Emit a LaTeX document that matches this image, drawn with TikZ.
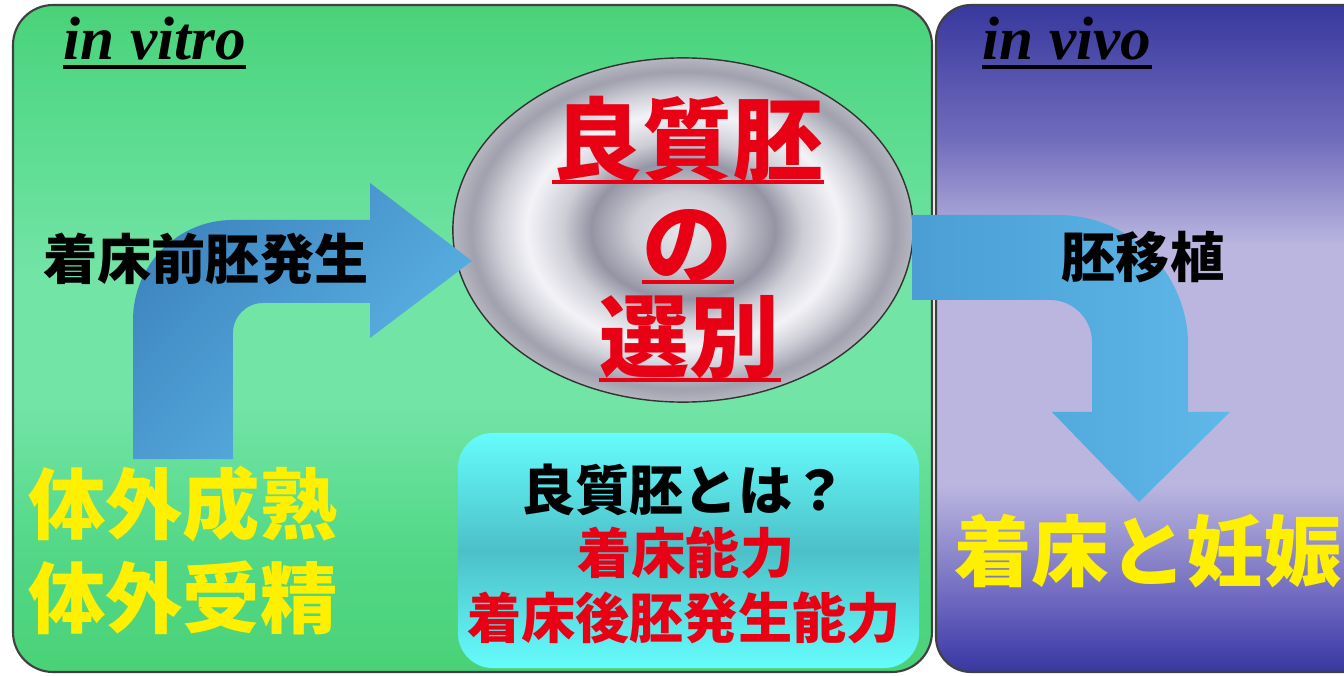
\documentclass[tikz,border=0pt]{standalone}
\usepackage{fontspec}
\usetikzlibrary{shapes.geometric}
\newfontfamily\jpfont{Noto Sans CJK JP}
\newfontfamily\titlefont{Liberation Serif}
\definecolor{vitrotop}{RGB}{74,210,120}
\definecolor{vitromid}{RGB}{114,228,166}
\definecolor{vitrolow}{RGB}{82,216,134}
\definecolor{vivotop}{RGB}{56,56,158}
\definecolor{vivodeep}{RGB}{75,72,175}
\definecolor{vivoupper}{RGB}{112,108,188}
\definecolor{vivomid}{RGB}{186,182,224}
\definecolor{vivolow}{RGB}{105,100,190}
\definecolor{vivosoft}{RGB}{142,137,202}
\definecolor{boxtop}{RGB}{102,252,252}
\definecolor{boxmid}{RGB}{76,192,200}
\definecolor{arrowdark}{RGB}{62,133,192}
\definecolor{arrowlight}{RGB}{94,184,232}
\definecolor{arrowmid}{RGB}{74,158,212}
\definecolor{embred}{RGB}{232,0,20}
\definecolor{embyellow}{RGB}{255,240,0}
\definecolor{ringA}{RGB}{230,230,236}
\definecolor{ringB}{RGB}{205,205,214}
\definecolor{ringC}{RGB}{148,148,164}
\definecolor{ringD}{RGB}{243,243,247}
\definecolor{ringE}{RGB}{208,208,217}
\definecolor{ringF}{RGB}{160,160,174}
\definecolor{ringG}{RGB}{182,182,192}
\pgfdeclareradialshading{rings}{\pgfpoint{0bp}{0bp}}{color(0bp)=(ringA); color(5.5bp)=(ringB); color(10bp)=(ringC); color(13bp)=(ringB); color(17bp)=(ringD); color(20bp)=(ringE); color(23bp)=(ringF); color(25bp)=(ringG); color(50bp)=(ringG)}
\pgfdeclareverticalshading{vitroshade}{100bp}{color(0bp)=(vitrotop); color(25bp)=(vitrotop); color(34bp)=(vitrolow); color(45bp)=(vitromid); color(55bp)=(vitromid); color(70bp)=(vitrolow); color(75bp)=(vitrotop); color(100bp)=(vitrotop)}
\pgfdeclareverticalshading{vivoshade}{100bp}{color(0bp)=(vivotop); color(25bp)=(vivotop); color(27bp)=(vivodeep); color(30bp)=(vivolow); color(34bp)=(vivosoft); color(39bp)=(vivomid); color(57bp)=(vivomid); color(65bp)=(vivoupper); color(75bp)=(vivotop); color(100bp)=(vivotop)}

\begin{document}
\begin{tikzpicture}[x=0.01cm, y=0.01cm,
    panel/.style={draw=black!75, line width=0.6pt},
    jp/.style={inner sep=0pt, font=\jpfont\bfseries\fontsize{15.4pt}{15.4pt}\selectfont},
    bigjp/.style={inner sep=0pt, text=embyellow, font=\jpfont\bfseries\fontsize{22pt}{22pt}\selectfont},
    choice/.style={inner sep=0pt, text=embred, font=\jpfont\bfseries\fontsize{25.6pt}{25.6pt}\selectfont},
    uline/.style={embred, line width=1.1pt},
    heading/.style={inner sep=0pt, anchor=base west, font=\titlefont\bfseries\itshape\fontsize{17.4pt}{17.4pt}\selectfont},
    qbox/.style={rounded corners=0.35cm, top color=boxtop, bottom color=boxtop, middle color=boxmid, minimum width=4.61cm, minimum height=2.35cm, inner sep=0pt}]

  \useasboundingbox (0,0) rectangle (1344,675);
  \clip (0,0) rectangle (1344,675);
  \fill[white] (0,0) rectangle (1344,675);

  \draw[panel, rounded corners=0.4cm, shade, shading=vitroshade] (13,3) rectangle (932,670);
  \draw[panel, rounded corners=0.35cm, shade, shading=vivoshade] (936,3) rectangle (1390,670);

  \node [heading] at (63,615) (vitro) {in vitro};
  \node [heading] at (982,615) (vivo) {in vivo};
  \draw [line width=1pt] ([yshift=-0.07cm]vitro.base west) -- ([yshift=-0.07cm]vitro.base east);
  \draw [line width=1pt] ([yshift=-0.07cm]vivo.base west) -- ([yshift=-0.07cm]vivo.base east);

  \node [ellipse, draw=black!80, shade, shading=rings, minimum width=4.6cm, minimum height=3.44cm, inner sep=0pt] at (683,445) (embryo) {};

  \shade [top color=arrowdark, bottom color=arrowlight, shading angle=45]
    (133,216) -- (133,355) arc[start angle=180, end angle=90, radius=1cm] -- (370,455) -- (370,492)
    -- (472,414) -- (370,337) -- (370,372) -- (263,372) arc[start angle=90, end angle=180, radius=0.3cm]
    -- (233,216) -- cycle;
  \shade [left color=arrowmid, right color=arrowlight]
    (912,460) -- (1058,460) arc[start angle=90, end angle=0, radius=1.3cm] -- (1188,263) -- (1230,263)
    -- (1139,173) -- (1052,263) -- (1092,263) -- (1092,333) arc[start angle=0, end angle=90, radius=0.42cm]
    -- (912,375) -- cycle;

  \node [qbox] at (688.5,124.5) (quality) {};

  \node [choice] at (688,536) (good) {良質胚};
  \node [choice] at (688,429) (of) {の};
  \node [choice] at (690,338) (select) {選別};
  \draw [uline] ([yshift=-0.43cm]good.west) -- ([yshift=-0.43cm]good.east);
  \draw [uline] ([yshift=-0.36cm]of.west) -- ([yshift=-0.36cm]of.east);
  \draw [uline] ([yshift=-0.43cm]select.west) -- ([yshift=-0.43cm]select.east);

  \node [jp] at (206,416) (preimp) {着床前胚発生};
  \node [jp] at (1143,418) (transfer) {胚移植};

  \node [bigjp] at (183,171) (ivm) {体外成熟};
  \node [bigjp] at (183,77) (ivf) {体外受精};
  \node [bigjp] at (1148,124) (preg) {着床と妊娠};

  \node [jp] at (684,185) (what) {良質胚とは？};
  \node [jp, text=embred] at (686,122) (implant) {着床能力};
  \node [jp, text=embred] at (684,57) (postimp) {着床後胚発生能力};
\end{tikzpicture}
\end{document}
